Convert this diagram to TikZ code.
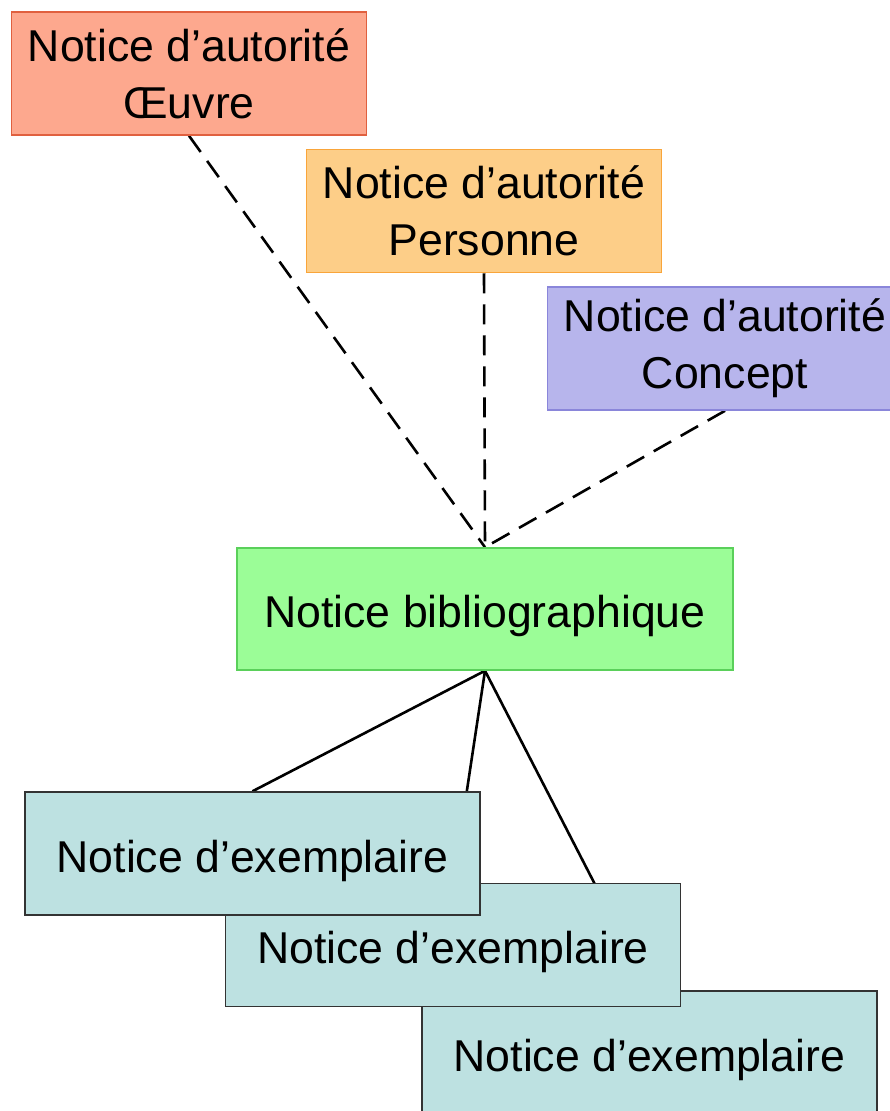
\documentclass[tikz,border=0pt]{standalone}
\usepackage{fontspec}
\setmainfont{Liberation Sans}
\usetikzlibrary{backgrounds}

\definecolor{oeuvrefond}{HTML}{FDA88E}
\definecolor{oeuvrebord}{HTML}{E0603F}
\definecolor{personnefond}{HTML}{FDCE88}
\definecolor{personnebord}{HTML}{F9A53A}
\definecolor{conceptfond}{HTML}{B7B5EC}
\definecolor{conceptbord}{HTML}{8A86DA}
\definecolor{bibliofond}{HTML}{9BFD97}
\definecolor{bibliobord}{HTML}{5AD05A}
\definecolor{exfond}{HTML}{BDE1E1}
\definecolor{exbord}{HTML}{333333}

\begin{document}
\begin{tikzpicture}[x=1pt, y=-1pt]
\tikzstyle{notice}=[draw, line width=1.5pt, inner sep=0pt, align=center, font=\fontsize{44.6}{57}\selectfont]
\tikzstyle{autorite}=[notice, minimum width=355pt, minimum height=123pt]
\tikzstyle{exemplaire}=[notice, fill=exfond, draw=exbord, minimum width=455pt, minimum height=123pt, text height=44pt, text depth=7pt]
\tikzstyle{lien}=[line width=2.6pt, black]
\useasboundingbox (0,0) rectangle (890,1111);

\node[autorite, fill=oeuvrefond, draw=oeuvrebord] (oeuvre) at (189,73.5) {Notice d’autorité\\Œuvre};
\node[autorite, fill=personnefond, draw=personnebord] (personne) at (484,211) {Notice d’autorité\\Personne};
\node[autorite, fill=conceptfond, draw=conceptbord] (concept) at (725,348.5) {Notice d’autorité\\Concept};
\node[notice, fill=bibliofond, draw=bibliobord, minimum width=496pt, minimum height=122pt, text height=44pt, text depth=7pt] (biblio) at (485,609) {Notice bibliographique};

\node[exemplaire] (ex3) at (649.5,1052.5) {Notice d’exemplaire};
\node[exemplaire] (ex2) at (453,945) {Notice d’exemplaire};
\node[exemplaire] (ex1) at (252.5,853.5) {Notice d’exemplaire};

\begin{pgfonlayer}{background}
\path[lien, dash pattern=on 20pt off 11pt]
   (oeuvre.south) edge (biblio.north)
   (personne.south) edge (biblio.north)
   (concept.south) edge (biblio.north);
\path[lien]
   (biblio.south) edge (ex1.north)
                  edge (ex2.north)
                  edge (ex3.north);
\end{pgfonlayer}
\end{tikzpicture}
\end{document}
